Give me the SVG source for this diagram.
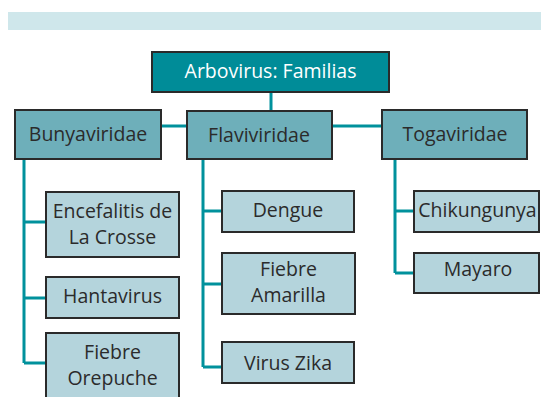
<svg xmlns="http://www.w3.org/2000/svg" width="541" height="397" viewBox="0 0 541 397">
<style>
.band{fill:#cfe7eb}
.root{fill:#008c98;stroke:#2a2a2a;stroke-width:2}
.fam{fill:#6eafba;stroke:#2a2a2a;stroke-width:2}
.leaf{fill:#b4d4dc;stroke:#2a2a2a;stroke-width:2}
text{font-family:"Open Sans","DejaVu Sans",sans-serif;font-size:19.5px;text-anchor:middle;fill:#2b2b2b}
.rt{fill:#ffffff}
.con{fill:none;stroke:#00919c;stroke-width:3}
</style>
<rect class="band" x="8" y="12" width="533" height="18"/>
<g id="connectors">
<path class="con" d="M271 92V111"/>
<path class="con" d="M161 126H187M332 126H382"/>
<path class="con" d="M24 159V363M24 222H46M24 298H46M24 363H46"/>
<path class="con" d="M203 159V367M203 211H222M203 284H222M203 367H222"/>
<path class="con" d="M395 159V273M395 211H414M395 273H414"/>
</g>
<g id="root"><rect class="root" x="152" y="52" width="237" height="40"/><text class="rt" x="270.5" y="77.5">Arbovirus: Familias</text></g>
<g id="bunyaviridae"><rect class="fam" x="15" y="110" width="146" height="49"/><text x="88" y="141">Bunyaviridae</text></g>
<g id="flaviviridae"><rect class="fam" x="187" y="111" width="145" height="48"/><text x="259" y="141.5">Flaviviridae</text></g>
<g id="togaviridae"><rect class="fam" x="382" y="110" width="145" height="49"/><text x="455" y="141">Togaviridae</text></g>
<g id="encefalitis"><rect class="leaf" x="46" y="192" width="133" height="65"/><text x="112.5" y="218">Encefalitis de</text><text x="112.5" y="244">La Crosse</text></g>
<g id="hantavirus"><rect class="leaf" x="46" y="277" width="133" height="41"/><text x="112.5" y="303">Hantavirus</text></g>
<g id="orepuche"><rect class="leaf" x="46" y="333" width="133" height="70"/><text x="112.5" y="359">Fiebre</text><text x="112.5" y="385">Orepuche</text></g>
<g id="dengue"><rect class="leaf" x="222" y="191" width="132" height="41"/><text x="288" y="217">Dengue</text></g>
<g id="amarilla"><rect class="leaf" x="222" y="253" width="133" height="61"/><text x="288.5" y="276">Fiebre</text><text x="288.5" y="302">Amarilla</text></g>
<g id="zika"><rect class="leaf" x="222" y="342" width="132" height="41"/><text x="288" y="370">Virus Zika</text></g>
<g id="chikungunya"><rect class="leaf" x="414" y="191" width="125" height="41"/><text x="477.5" y="217">Chikungunya</text></g>
<g id="mayaro"><rect class="leaf" x="414" y="253" width="125" height="40"/><text x="478" y="276">Mayaro</text></g>
</svg>
